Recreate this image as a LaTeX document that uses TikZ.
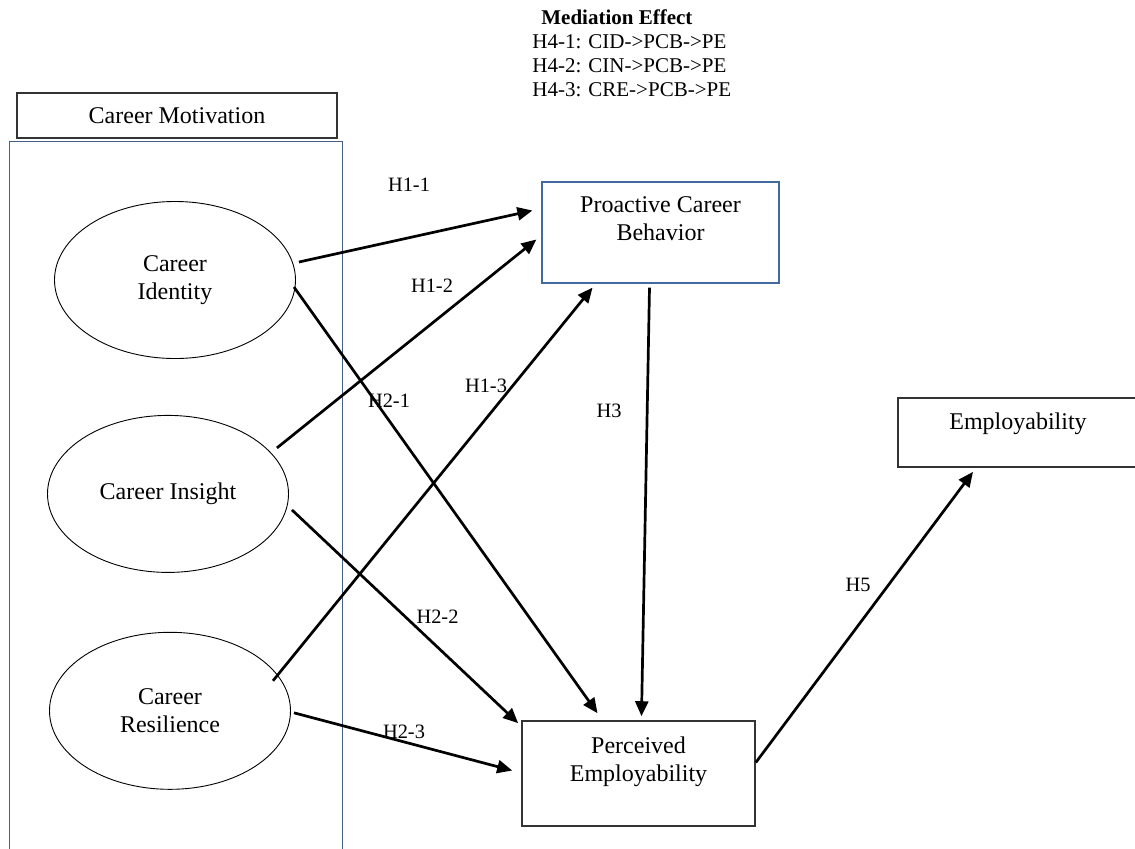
\documentclass[tikz,border=0pt]{standalone}
\usepackage{fontspec}
\setmainfont{Liberation Serif}
\usetikzlibrary{shapes.geometric,arrows.meta,positioning}
\definecolor{framecolor}{RGB}{70,95,135}
\definecolor{pcbcolor}{RGB}{66,106,160}

\begin{document}
\begin{tikzpicture}[
    x=0.5pt, y=-0.5pt,
    node distance=28pt,
    every node/.style={font=\fontsize{12}{14}\selectfont},
    factor/.style={ellipse, draw, line width=0.45pt, minimum width=120.5pt, minimum height=78.5pt, inner sep=0pt, align=center},
    construct/.style={rectangle, draw=black!80, line width=0.8pt, inner sep=0pt},
    boxtext/.style={anchor=north, align=center, inner sep=0pt},
    hyp/.style={font=\fontsize{10.2}{12}\selectfont, inner sep=0pt},
    arrow/.style={-{Triangle[length=7.5pt,width=6.5pt]}, line width=1.35pt}
]
    \useasboundingbox (0,0) rectangle (1135,848);

    % Mediation hypotheses
    \node[anchor=north west, align=left, inner sep=0pt, font=\fontsize{10.5}{12}\selectfont] (med) at (532,9)
        {\hspace*{4.5pt}\textbf{Mediation Effect}\\H4-1: CID->PCB->PE\\H4-2: CIN->PCB->PE\\H4-3: CRE->PCB->PE};

    % Career motivation block
    \node[construct, minimum width=160pt, minimum height=22.5pt] (cm) at (177,115.5) {Career Motivation};
    \node[rectangle, draw=framecolor, line width=0.5pt, minimum width=166.5pt, minimum height=360pt, inner sep=0pt, anchor=north west] (motiv) at (9,141) {};
    \node[factor] (cid) at (175,280) {Career\\Identity};
    \node[factor, below=of cid, xshift=-3.5pt] (cin) {Career Insight};
    \node[factor, below=29.5pt of cin, xshift=1pt] (cre) {Career\\Resilience};

    % Outcomes
    \node[construct, draw=pcbcolor, line width=0.6pt, minimum width=118.5pt, minimum height=50.5pt,
          label={[boxtext, yshift=-7.35pt]north:Proactive Career\\Behavior}] (pcb) at (660.5,232.5) {};
    \node[construct, minimum width=116.5pt, minimum height=52.5pt,
          label={[boxtext, yshift=-8.25pt]north:Perceived\\Employability}] (pe) at (638.5,773.5) {};
    \node[construct, minimum width=120pt, minimum height=34.5pt,
          label={[boxtext, yshift=-7.75pt]north:Employability}] (emp) at (1018,432.5) {};

    % Hypothesis labels
    \node[hyp] (h11) at (409,185) {H1-1};
    \node[hyp] (h12) at (432,286) {H1-2};
    \node[hyp] (h13) at (486,386) {H1-3};
    \node[hyp] (h21) at (389,401) {H2-1};
    \node[hyp] (h22) at (437.5,616.5) {H2-2};
    \node[hyp] (h23) at (404,731.5) {H2-3};
    \node[hyp] (h3) at (609,410.5) {H3};
    \node[hyp] (h5) at (858,584.5) {H5};

    \draw[arrow] ([shift={(3,-18)}]cid.east) -- ([shift={(-9,-22)}]pcb.west);
    \draw[arrow] ([shift={(-12,-46)}]cin.east) -- ([shift={(-5,7)}]pcb.west);
    \draw[arrow] ([shift={(-18,-30)}]cre.east) -- ([shift={(-68,4)}]pcb.south);
    \draw[arrow] ([shift={(-2,7)}]cid.east) -- ([shift={(-41,-7)}]pe.north);
    \draw[arrow] ([shift={(3,16)}]cin.east) -- ([shift={(-3,3)}]pe.north west);
    \draw[arrow] ([shift={(3,2)}]cre.east) -- ([shift={(-9,-3)}]pe.west);
    \draw[arrow] ([shift={(-11,4)}]pcb.south) -- ([shift={(3,-4)}]pe.north);
    \draw[arrow] ([shift={(0,-11)}]pe.east) -- ([shift={(-45,4)}]emp.south);
\end{tikzpicture}
\end{document}
